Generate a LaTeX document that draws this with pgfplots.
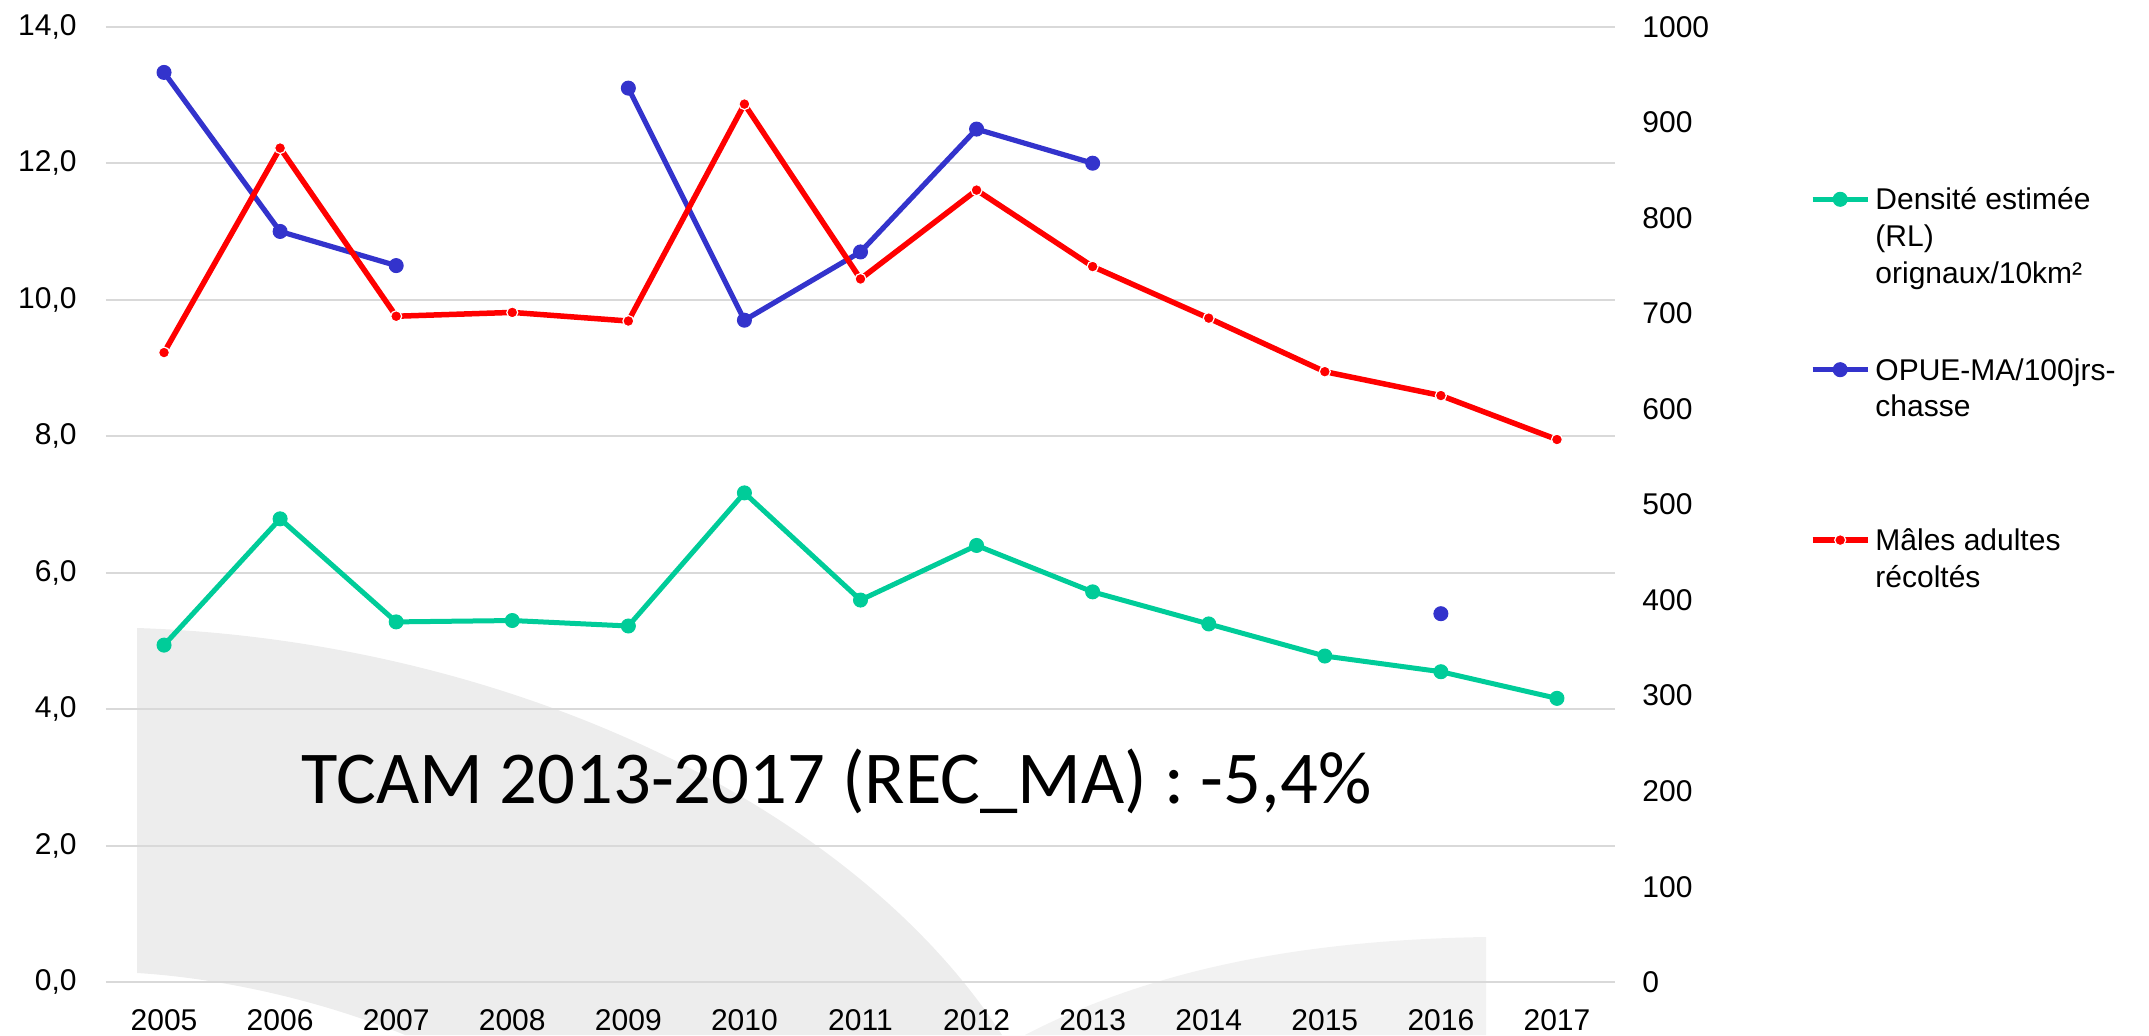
\documentclass[border=0pt]{standalone}
\usepackage{pgfplots}
\pgfplotsset{compat=1.18}
\usepackage{pgfplotstable}
\usepackage{fontspec}
\setmainfont{Liberation Sans}
\newfontfamily\calibri{Carlito}
\definecolor{cgreen}{RGB}{0,204,153}
\definecolor{cblue}{RGB}{51,51,204}
\definecolor{cred}{RGB}{255,0,0}
\definecolor{wmA}{RGB}{237,237,237}
\definecolor{wmB}{RGB}{242,242,242}
\definecolor{gridc}{RGB}{217,217,217}

\pgfplotstableread{
year dens opue
2005 4.94 13.33
2006 6.79 11.00
2007 5.28 10.50
2008 5.30 nan
2009 5.22 13.10
2010 7.17 9.70
2011 5.60 10.70
2012 6.40 12.50
2013 5.72 12.00
2014 5.25 nan
2015 4.78 nan
2016 4.55 5.40
2017 4.16 nan
}\leftdata

\pgfplotstableread{
year males
2005 659
2006 873
2007 697
2008 701
2009 692
2010 919
2011 736
2012 829
2013 749
2014 695
2015 639
2016 614
2017 568
}\rightdata

\pgfplotsset{
  greenstyle/.style={cgreen, line width=2.5pt, mark=*, mark size=3.5pt, mark options={solid, fill=cgreen, draw=cgreen, line width=0.5pt}},
  bluestyle/.style={cblue, line width=2.6pt, mark=*, mark size=3.5pt, mark options={solid, fill=cblue, draw=cblue, line width=0.5pt}},
  redstyle/.style={cred, line width=2.75pt, mark=*, mark size=2.75pt, mark options={solid, fill=cred, draw=white, line width=0.6pt}},
  ticklab/.style={font=\fontsize{15}{18}\selectfont, inner sep=0pt},
}

\begin{document}
\begin{tikzpicture}
\useasboundingbox (0,0) rectangle (1074.5pt,517.5pt);
% background watermark shapes (pixel coordinates of the reference)
\begin{scope}[x=0.5pt, y=-0.5pt, yshift=517.5pt]
  \fill[wmA] (137,628) .. controls (500,640) and (850,800) .. (1002,1035)
        -- (405,1035) .. controls (320,1000) and (220,978) .. (137,973) -- cycle;
  \fill[wmB] (1025,1035) .. controls (1150,970) and (1300,940) .. (1486,937)
        -- (1486,1035) -- cycle;
\end{scope}

\begin{axis}[
  at={(53pt,26.35pt)}, anchor=south west,
  scale only axis, width=754.5pt, height=477.8pt,
  xmin=2004.5, xmax=2017.5, ymin=0, ymax=14,
  axis line style={draw=none},
  major tick length=0pt,
  xtick={2005,2006,...,2017},
  ytick={0,2,...,14},
  ymajorgrids, grid style={gridc, line width=1pt},
  /pgf/number format/assume math mode=true,
  xticklabel style={ticklab, anchor=north, yshift=-13.5pt, /pgf/number format/1000 sep={}},
  yticklabel style={ticklab, anchor=east, xshift=-14.5pt, /pgf/number format/.cd, fixed, fixed zerofill, precision=1, use comma},
  unbounded coords=jump,
  clip=false,
]
\addplot[greenstyle] table[x=year, y=dens] {\leftdata};
\addplot[bluestyle] table[x=year, y=opue] {\leftdata};
\node[anchor=base west, inner sep=0pt, font=\calibri\fontsize{37.3}{40}\selectfont] at (axis cs:2006.18,2.618) {TCAM 2013-2017 (REC\_MA) : -5,4\%};
\end{axis}

\begin{axis}[
  at={(53pt,26.35pt)}, anchor=south west,
  scale only axis, width=754.5pt, height=477.8pt,
  xmin=2004.5, xmax=2017.5, ymin=0, ymax=1000,
  axis y line*=right, axis x line=none,
  axis line style={draw=none},
  major tick length=0pt,
  ytick={0,100,...,1000},
  /pgf/number format/assume math mode=true,
  yticklabel style={ticklab, anchor=west, xshift=13.5pt, /pgf/number format/1000 sep={}},
  clip=false,
  legend style={at={(1.1292,0.8333)}, anchor=north west, draw=none, fill=none,
    inner sep=0pt, outer sep=0pt, row sep=0pt, column sep=2.5pt,
    font=\fontsize{15}{18.3}\selectfont,
    nodes={inner sep=0pt, outer sep=0pt, text height=12pt, text depth=73.2pt},
    cells={anchor=base west}},
  legend image code/.code={\draw[#1, mark repeat=2, mark phase=2] plot coordinates {(0pt,5.35pt) (13.75pt,5.35pt) (27.5pt,5.35pt)};},
]
\addlegendimage{greenstyle}
\addlegendentry{\begin{tabular}[t]{@{}l@{}}Densité estimée\\(RL)\\orignaux/10km²\end{tabular}}
\addlegendimage{bluestyle}
\addlegendentry{\begin{tabular}[t]{@{}l@{}}OPUE-MA/100jrs-\\chasse\end{tabular}}
\addplot[redstyle] table[x=year, y=males] {\rightdata};
\addlegendentry{\begin{tabular}[t]{@{}l@{}}Mâles adultes\\récoltés\end{tabular}}
\end{axis}
\end{tikzpicture}
\end{document}
